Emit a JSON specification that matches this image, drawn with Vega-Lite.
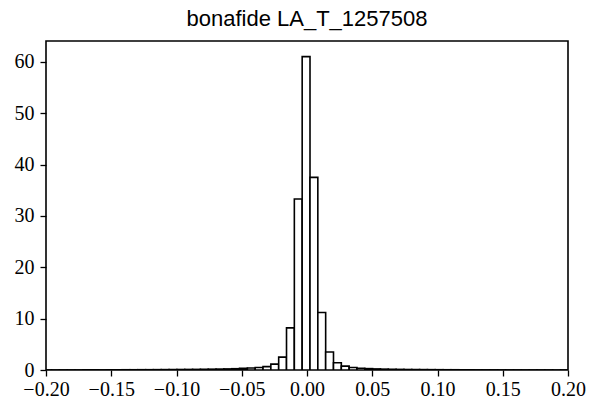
{
  "$schema": "https://vega.github.io/schema/vega-lite/v6.json",
  "width": 522,
  "height": 329,
  "autosize": {"type": "none"},
  "padding": {"left": 46, "top": 41, "right": 30, "bottom": 26},
  "background": "white",
  "title": {"text": "bonafide LA_T_1257508", "font": "Liberation Sans", "fontSize": 22, "fontWeight": "normal", "color": "black", "offset": 10, "anchor": "middle"},
  "config": {
    "view": {"stroke": "black", "strokeWidth": 1.6},
    "axis": {"grid": false, "domain": false, "tickColor": "black", "tickSize": 6, "tickWidth": 1.3, "labelFont": "Liberation Serif", "labelFontSize": 20, "labelColor": "black", "title": null}
  },
  "data": {"values": [
    {"lo": -0.2017, "hi": -0.1957, "density": 0.01},
    {"lo": -0.1957, "hi": -0.1897, "density": 0.01},
    {"lo": -0.1897, "hi": -0.1837, "density": 0.02},
    {"lo": -0.1837, "hi": -0.1777, "density": 0.02},
    {"lo": -0.1777, "hi": -0.1717, "density": 0.02},
    {"lo": -0.1717, "hi": -0.1657, "density": 0.03},
    {"lo": -0.1657, "hi": -0.1597, "density": 0.03},
    {"lo": -0.1597, "hi": -0.1537, "density": 0.03},
    {"lo": -0.1537, "hi": -0.1477, "density": 0.04},
    {"lo": -0.1477, "hi": -0.1417, "density": 0.04},
    {"lo": -0.1417, "hi": -0.1357, "density": 0.05},
    {"lo": -0.1357, "hi": -0.1297, "density": 0.05},
    {"lo": -0.1297, "hi": -0.1237, "density": 0.06},
    {"lo": -0.1237, "hi": -0.1177, "density": 0.06},
    {"lo": -0.1177, "hi": -0.1117, "density": 0.07},
    {"lo": -0.1117, "hi": -0.1057, "density": 0.08},
    {"lo": -0.1057, "hi": -0.0997, "density": 0.09},
    {"lo": -0.0997, "hi": -0.0937, "density": 0.10},
    {"lo": -0.0937, "hi": -0.0877, "density": 0.11},
    {"lo": -0.0877, "hi": -0.0817, "density": 0.12},
    {"lo": -0.0817, "hi": -0.0757, "density": 0.14},
    {"lo": -0.0757, "hi": -0.0697, "density": 0.16},
    {"lo": -0.0697, "hi": -0.0637, "density": 0.18},
    {"lo": -0.0637, "hi": -0.0577, "density": 0.21},
    {"lo": -0.0577, "hi": -0.0517, "density": 0.25},
    {"lo": -0.0517, "hi": -0.0457, "density": 0.32},
    {"lo": -0.0457, "hi": -0.0397, "density": 0.40},
    {"lo": -0.0397, "hi": -0.0337, "density": 0.50},
    {"lo": -0.0337, "hi": -0.0277, "density": 0.65},
    {"lo": -0.0277, "hi": -0.0217, "density": 1.15},
    {"lo": -0.0217, "hi": -0.0157, "density": 2.5},
    {"lo": -0.0157, "hi": -0.0097, "density": 8.2},
    {"lo": -0.0097, "hi": -0.0037, "density": 33.3},
    {"lo": -0.0037, "hi": 0.0023, "density": 61.0},
    {"lo": 0.0023, "hi": 0.0083, "density": 37.5},
    {"lo": 0.0083, "hi": 0.0143, "density": 11.2},
    {"lo": 0.0143, "hi": 0.0203, "density": 3.5},
    {"lo": 0.0203, "hi": 0.0263, "density": 1.4},
    {"lo": 0.0263, "hi": 0.0323, "density": 0.75},
    {"lo": 0.0323, "hi": 0.0383, "density": 0.50},
    {"lo": 0.0383, "hi": 0.0443, "density": 0.35},
    {"lo": 0.0443, "hi": 0.0503, "density": 0.27},
    {"lo": 0.0503, "hi": 0.0563, "density": 0.21},
    {"lo": 0.0563, "hi": 0.0623, "density": 0.17},
    {"lo": 0.0623, "hi": 0.0683, "density": 0.14},
    {"lo": 0.0683, "hi": 0.0743, "density": 0.12},
    {"lo": 0.0743, "hi": 0.0803, "density": 0.10},
    {"lo": 0.0803, "hi": 0.0863, "density": 0.09},
    {"lo": 0.0863, "hi": 0.0923, "density": 0.08},
    {"lo": 0.0923, "hi": 0.0983, "density": 0.07},
    {"lo": 0.0983, "hi": 0.1043, "density": 0.06},
    {"lo": 0.1043, "hi": 0.1103, "density": 0.05},
    {"lo": 0.1103, "hi": 0.1163, "density": 0.05},
    {"lo": 0.1163, "hi": 0.1223, "density": 0.04},
    {"lo": 0.1223, "hi": 0.1283, "density": 0.04},
    {"lo": 0.1283, "hi": 0.1343, "density": 0.03},
    {"lo": 0.1343, "hi": 0.1403, "density": 0.03},
    {"lo": 0.1403, "hi": 0.1463, "density": 0.03},
    {"lo": 0.1463, "hi": 0.1523, "density": 0.02},
    {"lo": 0.1523, "hi": 0.1583, "density": 0.02},
    {"lo": 0.1583, "hi": 0.1643, "density": 0.02},
    {"lo": 0.1643, "hi": 0.1703, "density": 0.02},
    {"lo": 0.1703, "hi": 0.1763, "density": 0.01},
    {"lo": 0.1763, "hi": 0.1823, "density": 0.01},
    {"lo": 0.1823, "hi": 0.1883, "density": 0.01},
    {"lo": 0.1883, "hi": 0.1943, "density": 0.01},
    {"lo": 0.1943, "hi": 0.2003, "density": 0.01}
  ]},
  "mark": {"type": "rect", "fill": "white", "stroke": "black", "strokeWidth": 1.6, "clip": true},
  "encoding": {
    "x": {"field": "lo", "type": "quantitative", "scale": {"domain": [-0.2, 0.2], "nice": false, "zero": false}, "axis": {"values": [-0.2, -0.15, -0.1, -0.05, 0, 0.05, 0.1, 0.15, 0.2], "format": ".2f", "labelPadding": 3, "labelFlush": false}},
    "x2": {"field": "hi"},
    "y": {"field": "density", "type": "quantitative", "scale": {"domain": [0, 64.05], "nice": false}, "axis": {"values": [0, 10, 20, 30, 40, 50, 60], "format": "d", "labelPadding": 6}},
    "y2": {"datum": 0}
  }
}
